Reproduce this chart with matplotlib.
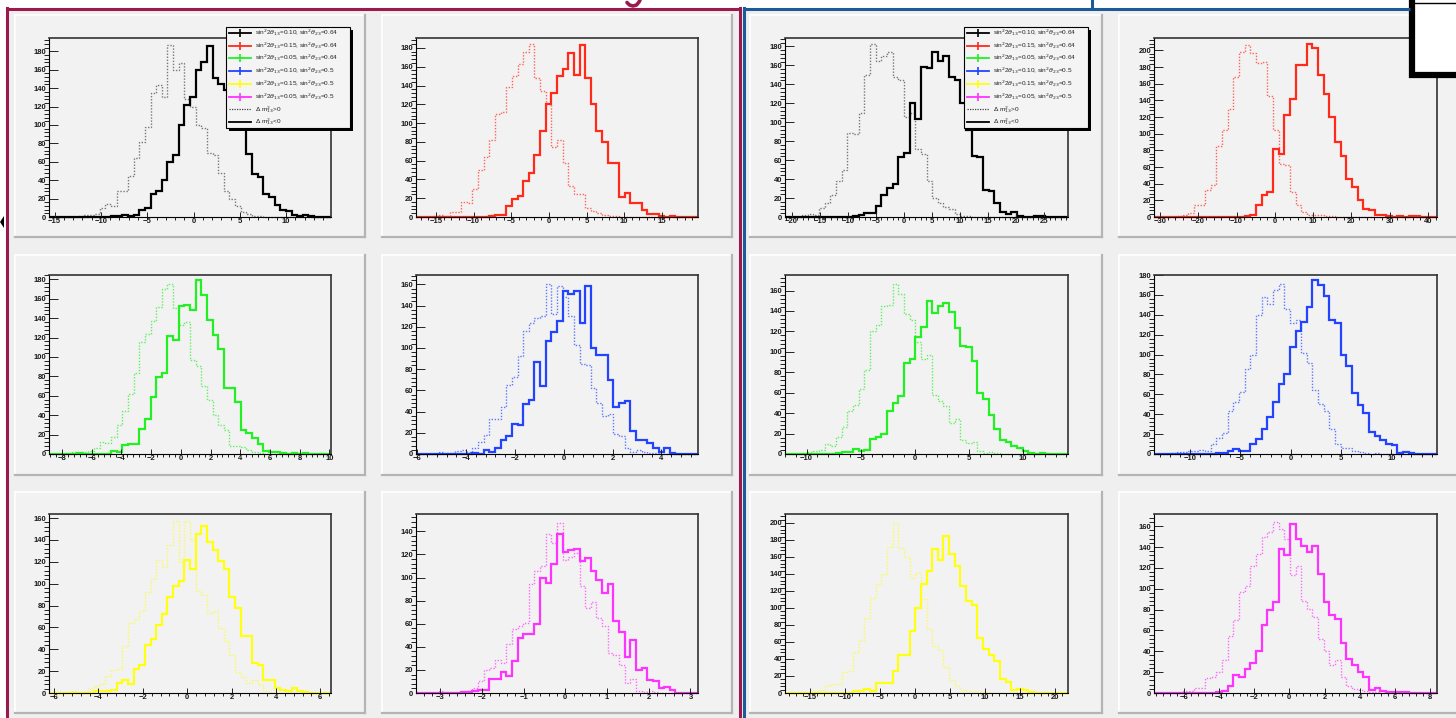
import matplotlib
matplotlib.use('Agg')
import matplotlib.pyplot as plt
from matplotlib.patches import Rectangle, Polygon
from matplotlib.ticker import MultipleLocator, AutoMinorLocator
import numpy as np

plt.rcParams['font.family'] = ['Liberation Sans', 'DejaVu Sans']
plt.rcParams['mathtext.fontset'] = 'dejavusans'

W, H = 1456, 718

# ---- histogram contents (50 bins each); "neg" = dm2<0 (solid), "pos" = dm2>0 (dotted)
p1_neg = [0,0,0,0,0,0,0,0,0,0,0,1,1,2,1,2,8,10,25,28,40,60,67,100,122,130,160,168,186,151,
          145,138,130,118,100,68,47,44,25,22,13,8,6,2,1,2,1,0,0,0]
p1_pos = [0,0,0,0,0,1,2,2,3,10,14,12,28,28,45,64,82,98,135,143,130,187,160,167,128,120,100,97,70,67,
          48,28,20,12,5,3,1,1,0,0,0,0,0,0,0,0,0,0,0,0]
p2_neg = [0,0,0,0,0,0,0,0,0,0,0,0,0,1,2,2,12,19,22,38,47,66,92,120,132,150,158,175,151,183,
          148,120,92,80,58,57,21,26,15,15,7,3,3,1,0,1,0,0,0,0]
p2_pos = [0,0,0,1,2,1,5,5,16,15,30,50,64,82,110,112,138,150,163,176,184,148,134,120,75,82,57,33,25,24,
          10,6,4,2,1,1,0,0,0,0,0,0,0,0,0,0,0,0,0,0]
p3_neg = [0,0,0,0,0,0,0,0,0,0,0,0,1,2,4,4,12,23,31,35,63,68,120,103,158,157,174,165,170,148,
          145,120,92,64,63,28,27,15,5,3,5,1,0,0,1,1,0,0,0,0]
p3_pos = [0,0,0,2,3,2,10,15,23,38,50,89,88,110,150,182,165,170,174,148,145,105,110,72,66,38,20,15,11,8,
          3,1,1,0,0,0,0,0,0,0,0,0,0,0,0,0,0,0,0,0]
p4_neg = [0,0,0,0,0,0,0,0,0,0,0,0,0,0,0,0,1,2,15,27,30,82,76,123,142,182,182,208,203,170,
          148,120,90,73,46,36,20,10,8,3,2,1,0,1,0,1,1,0,0,0]
p4_pos = [0,0,0,0,1,2,5,15,15,32,38,85,104,130,168,198,207,197,185,186,145,105,64,63,30,15,6,3,3,2,
          1,1,0,0,0,0,0,0,0,0,0,0,0,0,0,0,0,0,0,0]
p5_neg = [0,0,0,0,0,1,0,0,0,0,0,3,2,9,10,10,26,36,59,79,83,122,117,153,154,148,179,164,138,123,
          108,68,68,54,25,22,17,10,3,2,2,1,0,1,0,1,0,0,0,0]
p5_pos = [0,0,0,1,2,1,2,3,6,12,11,18,30,44,62,84,115,124,137,152,170,175,151,133,136,97,91,70,56,40,
          30,25,8,8,7,4,2,1,0,0,0,0,0,0,0,0,0,0,0,0]
p6_neg = [0,0,0,0,0,0,0,0,0,0,1,0,4,2,6,13,17,28,27,47,51,87,64,107,115,125,154,151,154,124,
          158,100,93,93,70,44,48,50,22,13,13,10,6,2,6,1,0,0,0,0]
p6_pos = [0,0,0,0,2,1,1,3,4,2,6,11,18,33,33,44,65,73,92,116,124,128,130,160,132,158,148,130,103,85,
          84,62,48,36,38,19,17,6,2,4,2,1,1,0,0,0,0,0,0,0]
p7_neg = [0,0,0,0,0,0,0,0,0,1,2,2,5,3,4,15,17,20,42,50,57,89,93,115,124,150,138,145,148,139,
          123,106,105,91,60,54,38,24,14,12,8,6,3,1,0,1,0,0,0,0]
p7_pos = [0,0,0,1,2,3,4,10,8,17,26,42,48,64,82,120,126,145,146,166,157,137,131,110,93,97,58,52,47,30,
          34,14,11,12,3,1,2,1,0,0,0,0,0,0,0,0,0,0,0,0]
p8_neg = [0,0,0,0,0,0,0,0,0,0,0,1,1,3,5,3,3,10,15,25,37,52,70,80,108,124,133,148,175,170,
          159,135,132,100,88,61,49,41,22,18,14,10,9,1,2,1,0,0,0,0]
p8_pos = [0,0,0,1,2,2,3,3,4,3,10,16,21,43,52,62,85,100,140,158,151,165,171,146,132,135,102,92,64,50,
          43,25,10,6,6,3,2,1,0,1,0,0,0,0,0,0,0,0,0,0]
p9_neg = [0,0,0,0,0,0,0,0,2,2,2,3,9,12,8,22,26,44,49,62,72,88,98,102,122,113,145,153,138,131,
          121,113,88,78,52,52,27,26,12,12,5,3,2,5,2,1,0,0,0,0]
p9_pos = [0,0,0,1,2,1,1,5,6,8,16,21,22,43,64,68,75,92,104,122,115,135,157,120,157,140,93,90,73,75,
          59,48,35,19,15,9,12,7,2,1,0,0,0,0,0,0,0,0,0,0]
p10_neg = [0,0,0,0,0,0,0,0,1,1,2,3,3,12,12,18,15,28,48,51,51,60,100,95,112,138,122,124,125,114,
           117,106,98,87,94,62,53,31,46,20,22,11,10,4,5,3,0,0,0,0]
p10_pos = [0,0,0,0,2,1,1,1,2,2,4,10,20,22,29,26,42,55,58,61,94,106,110,138,130,147,115,118,121,93,
           74,79,65,58,35,33,24,9,12,2,1,2,1,0,0,0,0,0,0,0]
p11_neg = [0,0,0,0,0,0,0,0,0,0,0,0,2,2,5,2,12,12,12,26,45,45,73,100,128,143,169,156,185,163,
           149,126,108,104,65,52,45,38,17,13,4,5,3,1,0,0,0,0,0,0]
p11_pos = [0,0,0,0,1,2,3,8,10,10,25,26,48,62,88,112,128,140,172,200,170,160,135,141,110,75,55,50,30,15,
           8,4,2,2,1,1,0,0,0,0,0,0,0,0,0,0,0,0,0,0]
p12_neg = [0,0,0,0,0,0,0,0,0,0,0,1,2,7,17,15,23,29,40,65,80,87,138,132,162,148,141,135,141,114,
           87,75,71,48,33,27,20,15,3,5,2,1,1,1,1,0,0,0,0,0]
p12_pos = [0,0,0,0,0,2,2,5,5,14,15,20,32,55,70,97,103,122,133,150,155,164,157,148,113,122,88,81,73,52,
           40,27,32,15,7,4,3,2,1,1,0,0,0,0,0,0,0,0,0,0]

# histogram ranges (x) and plotted y maximum
x_ranges = [(-15.61, 14.84), (-17.66, 19.79), (-21.19, 29.28), (-31.57, 42.35),
            (-8.88, 10.11), (-6.05, 5.50), (-12.0, 14.15), (-13.58, 14.54),
            (-6.23, 6.48), (-3.58, 3.18), (-18.6, 21.83), (-7.69, 8.39)]
y_tops = [194.5, 190.6, 188.8, 214.8, 184.5, 168.8, 175.2, 180.0, 163.7, 155.0, 210.5, 171.8]
x_steps = [5, 5, 5, 10, 2, 2, 5, 5, 2, 1, 5, 2]

# legend text
th13 = ['0.10', '0.15', '0.05', '0.10', '0.15', '0.05']
th23 = ['0.64', '0.64', '0.64', '0.5', '0.5', '0.5']
leg_colors = ['#000000', '#ff2a1a', '#22f022', '#2244ff', '#ffff11', '#ff33ff']

hists = [(p1_neg, p1_pos), (p2_neg, p2_pos), (p3_neg, p3_pos), (p4_neg, p4_pos),
         (p5_neg, p5_pos), (p6_neg, p6_pos), (p7_neg, p7_pos), (p8_neg, p8_pos),
         (p9_neg, p9_pos), (p10_neg, p10_pos), (p11_neg, p11_pos), (p12_neg, p12_pos)]
panel_colors = ['#000000', '#ff2a1a', '#000000', '#ff2a1a',
                '#22f022', '#2244ff', '#22f022', '#2244ff',
                '#ffff11', '#ff33ff', '#ffff11', '#ff33ff']

# ---- layout in pixels
col_box = [(15, 365), (382, 732), (750, 1102), (1119, 1470)]
row_box = [(15, 237), (255, 475), (492, 713)]
col_ax = [(49, 331), (416, 698), (785, 1068), (1154, 1437)]
row_ax = [(38, 217), (275, 454), (514, 693)]

PAD = '#f2f2f2'
MAROON = '#9a1a4e'
BLUE = '#1c5a98'

fig = plt.figure(figsize=(W / 100, H / 100), dpi=100)
fig.patch.set_facecolor('white')

bg = fig.add_axes([0, 0, 1, 1], zorder=-10)
bg.set_xlim(0, W)
bg.set_ylim(H, 0)
bg.axis('off')

bg.add_patch(Rectangle((7, 9), W, H, facecolor='#efefef', edgecolor='none'))
for (cx0, cx1) in col_box:
    for (ry0, ry1) in row_box:
        bg.add_patch(Rectangle((cx0, ry0), cx1 - cx0, ry1 - ry0, facecolor=PAD, edgecolor='none'))
        bg.plot([cx0, cx1], [ry0, ry0], color='white', lw=1.2)
        bg.plot([cx0, cx0], [ry0, ry1], color='white', lw=1.2)
        bg.plot([cx0, cx1], [ry1, ry1], color='#b4b4b4', lw=1.6)
        bg.plot([cx1, cx1], [ry0, ry1], color='#b4b4b4', lw=1.6)


def px_axes(x0, x1, y0, y1):
    return fig.add_axes([x0 / W, 1 - y1 / H, (x1 - x0) / W, (y1 - y0) / H])


for i, (neg, pos) in enumerate(hists):
    r, c = divmod(i, 4)
    ax = px_axes(col_ax[c][0], col_ax[c][1], row_ax[r][0], row_ax[r][1])
    ax.set_facecolor(PAD)
    lo, hi = x_ranges[i]
    edges = np.linspace(lo, hi, len(neg) + 1)
    col = panel_colors[i]
    dcol = '#444444' if col == '#000000' else col
    ax.stairs(pos, edges, color=dcol, lw=1.0, linestyle=(0, (1, 1.2)), alpha=0.7, clip_on=False)
    ax.stairs(neg, edges, color=col, lw=1.6, clip_on=False)
    ax.set_xlim(lo, hi)
    ax.set_ylim(0, y_tops[i])
    ax.xaxis.set_major_locator(MultipleLocator(x_steps[i]))
    ax.xaxis.set_minor_locator(AutoMinorLocator(5))
    ax.yaxis.set_major_locator(MultipleLocator(20))
    ax.yaxis.set_minor_locator(AutoMinorLocator(5))
    ax.tick_params(direction='in', top=False, right=False, labelsize=5.5,
                   labelcolor='#1a1a1a', color='#222222', width=0.7)
    ax.tick_params(axis='y', which='major', length=6.5, pad=2)
    ax.tick_params(axis='y', which='minor', length=3.4)
    ax.tick_params(axis='x', which='major', length=3.6, pad=1)
    ax.tick_params(axis='x', which='minor', length=2.0)
    for lab in ax.get_xticklabels() + ax.get_yticklabels():
        lab.set_fontweight('bold')
    for s in ['left', 'bottom']:
        ax.spines[s].set_linewidth(0.8)
    for s in ['top', 'right']:
        ax.spines[s].set_linewidth(1.2)
        ax.spines[s].set_color('#333333')

# ---- foreground overlay: frames, legends, corner decorations
fg = fig.add_axes([0, 0, 1, 1], zorder=10)
fg.set_xlim(0, W)
fg.set_ylim(H, 0)
fg.axis('off')
fg.patch.set_alpha(0)

fg.plot([6, 740], [8.5, 8.5], color=MAROON, lw=2.2, solid_capstyle='butt')
fg.plot([6.5, 6.5], [8, H], color=MAROON, lw=2.2)
fg.plot([740, 740], [8, H], color=MAROON, lw=2.2)
fg.plot([743.5, 1410], [8.5, 8.5], color=BLUE, lw=2.2, solid_capstyle='butt')
fg.plot([743.5, 743.5], [8, H], color=BLUE, lw=2.2)
fg.plot([1092, 1092], [0, 7], color=BLUE, lw=2.2)
# tail of a cropped title glyph above the left frame
fg.plot([627, 629.5, 633, 636.5, 639, 640], [2.5, 5, 6, 5, 2, 0],
        color=MAROON, lw=2.6, solid_capstyle='round')
fg.add_patch(Polygon([(0, 222), (4, 216), (4, 228)], closed=True, facecolor='black', edgecolor='none'))

fg.add_patch(Rectangle((1411.5, -10), 60, 84.5, facecolor='white', edgecolor='black', lw=4.5))
fg.plot([1414, W], [3, 3], color='black', lw=1.0)


def draw_legend(L, T, R, B):
    fg.add_patch(Rectangle((L + 3, T + 3), R - L, B - T, facecolor='black', edgecolor='none'))
    fg.add_patch(Rectangle((L, T), R - L, B - T, facecolor='#f4f4f4', edgecolor='black', lw=0.8))
    step = (B - T - 12) / 7
    for k in range(8):
        y = T + 6 + step * k
        if k < 6:
            fg.plot([L + 3, L + 25], [y, y], color=leg_colors[k], lw=1.3)
            fg.plot([L + 14], [y], marker='|', ms=6, mew=1.2, color=leg_colors[k])
            label = (r'sin$^{2}$2$\theta_{13}$=' + th13[k] +
                     r', sin$^{2}\theta_{23}$=' + th23[k])
        elif k == 6:
            fg.plot([L + 3, L + 25], [y, y], color='#444444', lw=0.9, linestyle=(0, (1, 1)))
            label = r'$\Delta$ m$^{2}_{13}$>0'
        else:
            fg.plot([L + 3, L + 25], [y, y], color='black', lw=1.3)
            label = r'$\Delta$ m$^{2}_{13}$<0'
        fg.text(L + 29, y, label, fontsize=4.6, va='center', ha='left', color='#222222')


draw_legend(226, 27, 350, 128)
draw_legend(964, 27, 1088, 128)

fig.savefig('out.png', dpi=100, facecolor=fig.get_facecolor())
